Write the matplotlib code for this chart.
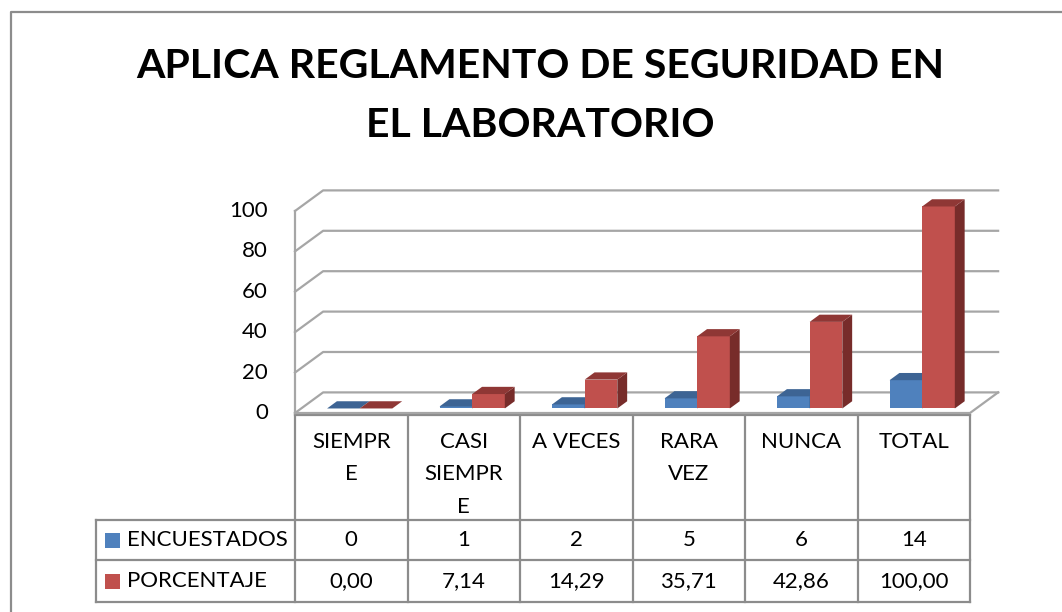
import matplotlib.pyplot as plt
from matplotlib.patches import Polygon, Rectangle

# datos
categorias = ['SIEMPRE', 'CASI SIEMPRE', 'A VECES', 'RARA VEZ', 'NUNCA', 'TOTAL']
etiquetas_tabla = [['SIEMPR', 'E'], ['CASI', 'SIEMPR', 'E'], ['A VECES'], ['RARA', 'VEZ'], ['NUNCA'], ['TOTAL']]
series = ['ENCUESTADOS', 'PORCENTAJE']
encuestados = [0, 1, 2, 5, 6, 14]
porcentaje = [0.00, 7.14, 14.29, 35.71, 42.86, 100.00]
yticks = [0, 20, 40, 60, 80, 100]
titulo = ['APLICA REGLAMENTO DE SEGURIDAD EN', 'EL LABORATORIO']

plt.rcParams['font.family'] = ['Lato', 'DejaVu Sans']

W, H = 1062, 612
fig = plt.figure(figsize=(W / 100, H / 100), dpi=100)

# capa en pixeles para marco, titulo y tabla
ov = fig.add_axes([0, 0, 1, 1])
ov.set_xlim(0, W)
ov.set_ylim(H, 0)
ov.axis('off')

gris = '#8c8c8c'
ov.plot([11, 11, W + 5], [H + 5, 12, 12], color=gris, lw=1.6)

# titulo
ov.text(540, 78, titulo[0], ha='center', va='baseline', fontsize=29.5, fontweight='bold')
ov.text(540, 137, titulo[1], ha='center', va='baseline', fontsize=29.5, fontweight='bold')

# grafico 3D simulado (proyeccion oblicua)
ax = fig.add_axes([295 / W, (H - 413) / H, 675 / W, 202 / H])
ax.set_xlim(0, 6)
ax.set_ylim(0, 100)
ax.axis('off')

fs = 16
DX, DY = 0.25, 10.2
grid_c = '#a6a6a6'
for v in yticks:
    ax.plot([0, DX, 6 + DX], [v, v + DY, v + DY], color=grid_c, lw=1.6, clip_on=False)
    ax.text(-0.24, v, str(v), ha='right', va='center', fontsize=fs)
ax.plot([0, 0], [0, 100], color=grid_c, lw=1.6, clip_on=False)
ax.plot([0, 6, 6 + DX], [0, 0, DY], color=grid_c, lw=1.6, clip_on=False)

colores = [('#4F81BD', '#3D6494', '#2F5178'), ('#C0504D', '#8F3735', '#772C2A')]
d0, d1 = 0.22, 0.57
ancho = 0.29
for i in range(len(categorias)):
    for s, vals in enumerate([encuestados, porcentaje]):
        v = vals[i]
        cara, tapa, lado = colores[s]
        x0 = i + 0.23 + s * ancho
        x1 = x0 + ancho
        fx, fy = d0 * DX, d0 * DY
        bx, by = d1 * DX, d1 * DY
        ax.add_patch(Polygon([(x0 + fx, fy), (x1 + fx, fy), (x1 + fx, v + fy), (x0 + fx, v + fy)],
                             closed=True, fc=cara, ec='none', clip_on=False, zorder=3))
        ax.add_patch(Polygon([(x1 + fx, fy), (x1 + bx, by), (x1 + bx, v + by), (x1 + fx, v + fy)],
                             closed=True, fc=lado, ec='none', clip_on=False, zorder=3))
        ax.add_patch(Polygon([(x0 + fx, v + fy), (x1 + fx, v + fy), (x1 + bx, v + by), (x0 + bx, v + by)],
                             closed=True, fc=tapa, ec='none', clip_on=False, zorder=3))

# tabla de datos
xs = [295 + 112.5 * k for k in range(7)]
y_top, y_r1, y_r2, y_bot = 415, 520, 560, 602
lin = dict(color=gris, lw=1.6)
ov.plot([xs[0], xs[-1]], [y_top, y_top], **lin)
for y in (y_r1, y_r2, y_bot):
    ov.plot([96, xs[-1]], [y, y], **lin)
for x in xs:
    ov.plot([x, x], [y_top, y_bot], **lin)
ov.plot([96, 96], [y_r1, y_bot], **lin)

for k, lineas in enumerate(etiquetas_tabla):
    cx = xs[k] + 56.25
    for j, t in enumerate(lineas):
        ov.text(cx, 442 + 32.5 * j, t, ha='center', va='center', fontsize=fs)

filas = [[str(v) for v in encuestados],
         [f'{v:.2f}'.replace('.', ',') for v in porcentaje]]
for r, (nombre, fila) in enumerate(zip(series, filas)):
    cy = 540 + 41 * r
    ov.add_patch(Rectangle((105, cy - 7.5), 15, 15, fc=colores[r][0], ec='none'))
    ov.text(127, cy, nombre, ha='left', va='center', fontsize=fs)
    for k, t in enumerate(fila):
        ov.text(xs[k] + 56.25, cy, t, ha='center', va='center', fontsize=fs)

fig.savefig('out.png', dpi=100)
